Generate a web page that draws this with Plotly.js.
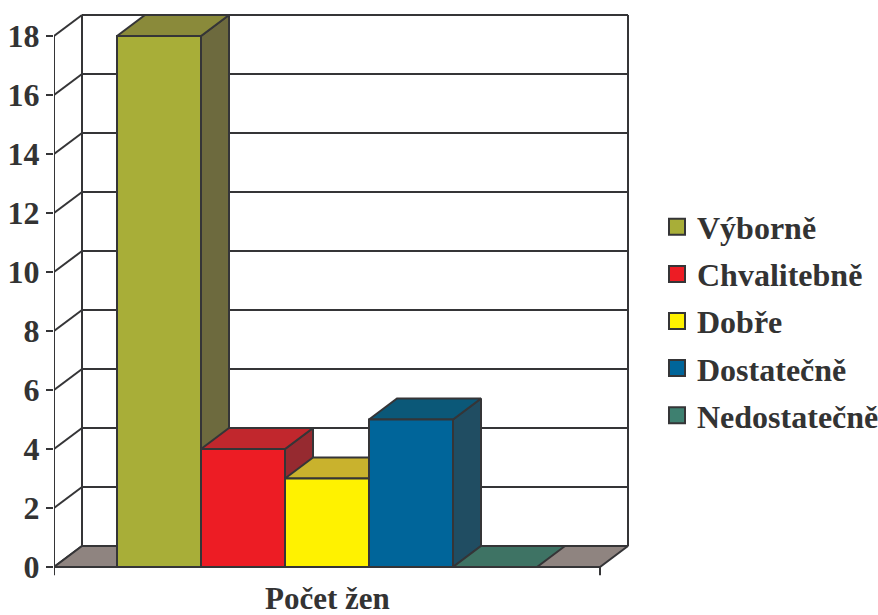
<!DOCTYPE html>
<html>
<head>
<meta charset="utf-8">
<script src="https://cdn.plot.ly/plotly-3.0.1.min.js"></script>
<style>html,body{margin:0;padding:0;background:#fff;}#chart{width:878px;height:615px;}</style>
</head>
<body>
<div id="chart"></div>
<script>
// ---- data ----
const categories = ['Výborně', 'Chvalitebně', 'Dobře', 'Dostatečně', 'Nedostatečně'];
const values = [18, 4, 3, 5, 0];
const frontColors = ['#A8AE38', '#ED1C24', '#FFF200', '#00659A', '#3E8070'];
const topColors   = ['#8A8A3A', '#C1272D', '#C9B22D', '#0B5878', '#3E7364'];
const sideColors  = ['#6D6A3E', '#962A30', '#A0902A', '#204D62', '#305A4E'];
const yTickVals = [0, 2, 4, 6, 8, 10, 12, 14, 16, 18];
const xTitle = 'Počet žen';

// ---- style / geometry ----
const edge = '#353537';
const floorColor = '#8F8480';
const gap = 0.75;
const barW = 1;
const planeW = gap * 2 + barW * values.length;
const dX = 1 / 3;
const dY = 21 / 29.5;
const wallTop = yTickVals[yTickVals.length - 1];
const font = '"Liberation Serif"';

function poly(xs, ys, fill) {
  return {
    type: 'scatter', mode: 'lines',
    x: xs.concat([xs[0]]), y: ys.concat([ys[0]]),
    fill: 'toself', fillcolor: fill,
    line: {color: edge, width: 2},
    showlegend: false, hoverinfo: 'skip'
  };
}
function segs(list) {
  const x = [], y = [];
  list.forEach(s => { x.push(s[0], s[2], null); y.push(s[1], s[3], null); });
  return {type: 'scatter', mode: 'lines', x, y, line: {color: edge, width: 2},
          showlegend: false, hoverinfo: 'skip'};
}

const traces = [];
const wallSegs = [];
wallSegs.push([dX, dY, dX, wallTop + dY]);
wallSegs.push([planeW + dX, dY, planeW + dX, wallTop + dY]);
yTickVals.forEach(v => {
  if (v > 0) wallSegs.push([dX, v + dY, planeW + dX, v + dY]);
  wallSegs.push([0, v, dX, v + dY]);
});
traces.push(segs(wallSegs));
traces.push(poly([0, planeW, planeW + dX, dX], [0, 0, dY, dY], floorColor));
values.forEach((h, i) => {
  const x0 = gap + i * barW, x1 = x0 + barW;
  if (h > 0) traces.push(poly([x1, x1 + dX, x1 + dX, x1], [0, dY, h + dY, h], sideColors[i]));
  traces.push(poly([x0, x1, x1 + dX, x0 + dX], [h, h, h + dY, h + dY], topColors[i]));
  if (h > 0) traces.push(poly([x0, x1, x1, x0], [0, 0, h, h], frontColors[i]));
});
traces.push(segs([[0, wallTop, 0, -0.28], [planeW, 0, planeW, -0.28], [0, 0, planeW, 0]]));
categories.forEach((c, i) => {
  traces.push({type: 'scatter', mode: 'markers', x: [null], y: [null], name: c,
    legendgroup: 'g' + i,
    marker: {symbol: 'square', size: 16, color: frontColors[i], line: {color: edge, width: 2}},
    hoverinfo: 'skip'});
});

const pxPerUnit = 29.5;
const plotTop = 10, plotBottom = 580, zeroPx = 567;
const plotW = 580;
const layout = {
  width: 878, height: 615,
  margin: {l: 54, r: 878 - 54 - plotW, t: plotTop, b: 615 - plotBottom, autoexpand: false},
  paper_bgcolor: '#fff', plot_bgcolor: 'rgba(0,0,0,0)',
  showlegend: true,
  hovermode: false,
  font: {family: font, color: '#333', size: 32},
  xaxis: {range: [0, plotW / 84], visible: false, fixedrange: true},
  yaxis: {
    range: [(zeroPx - plotBottom) / pxPerUnit, (zeroPx - plotTop) / pxPerUnit],
    tickvals: yTickVals, ticktext: yTickVals.map(String),
    ticks: 'outside', ticklen: 7, tickwidth: 2, tickcolor: edge,
    showgrid: false, zeroline: false, showline: false,
    tickfont: {family: font, size: 32, color: '#333', weight: 'bold'},
    ticklabelstandoff: 0, fixedrange: true
  },
  legend: {
    x: (657 - 54) / plotW, xanchor: 'left',
    y: 1 - (321 - plotTop) / (plotBottom - plotTop), yanchor: 'middle',
    font: {family: font, size: 32, color: '#333', weight: 'bold'},
    bgcolor: 'rgba(0,0,0,0)', itemwidth: 30, tracegroupgap: 2.5, traceorder: 'grouped'
  },
  annotations: [{
    text: xTitle, xref: 'x', yref: 'paper', x: planeW / 2, y: -18 / (plotBottom - plotTop),
    xanchor: 'center', yanchor: 'middle', showarrow: false,
    font: {family: font, size: 31, color: '#333', weight: 'bold'}
  }]
};
Plotly.newPlot('chart', traces, layout, {staticPlot: true, displayModeBar: false});
</script>
</body>
</html>
